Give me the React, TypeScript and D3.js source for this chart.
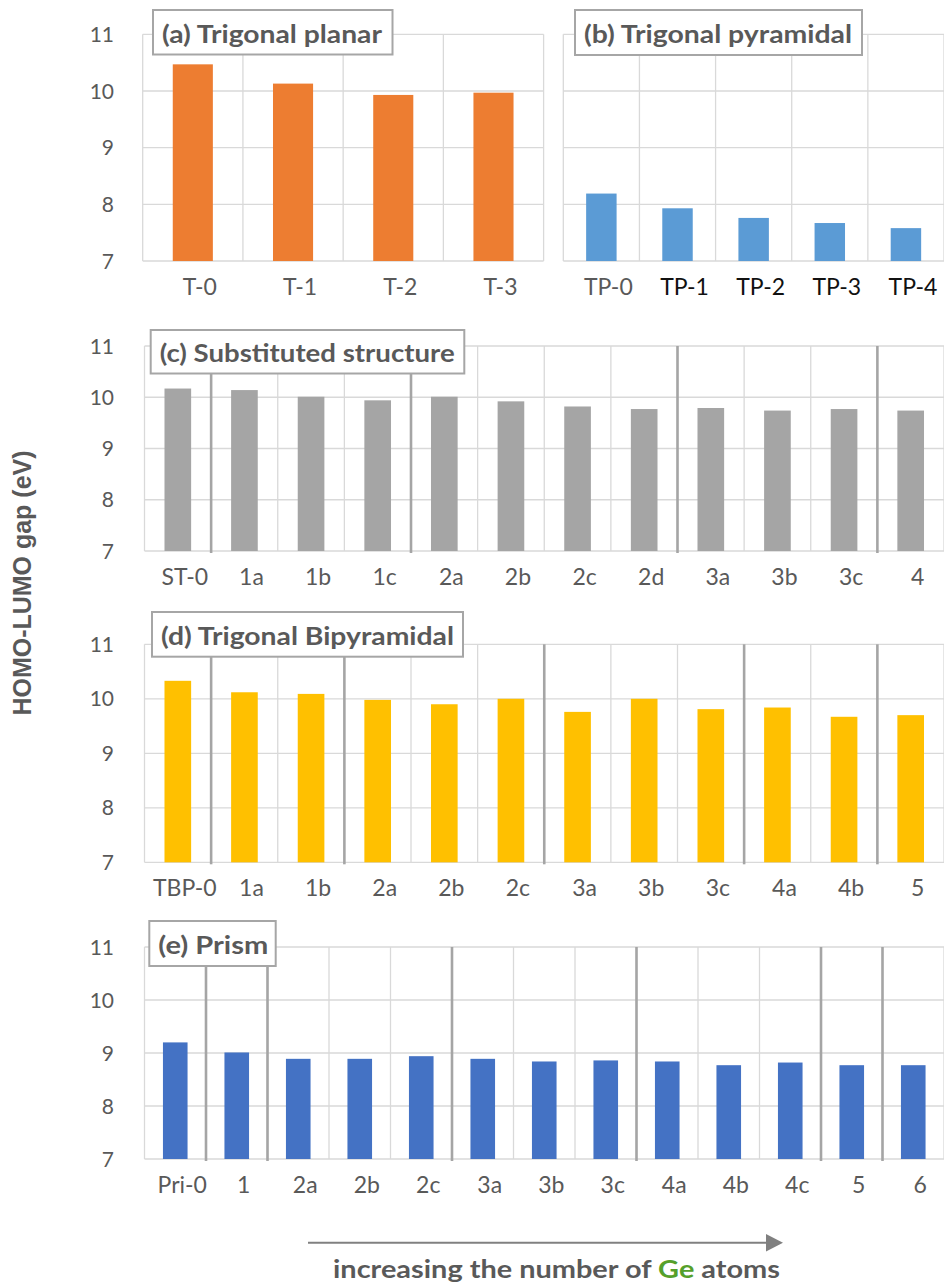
import React from "react";
import * as d3 from "d3";

const yTicks = [7, 8, 9, 10, 11];

const catA = ["T-0", "T-1", "T-2", "T-3"];
const valA = [10.47, 10.13, 9.93, 9.97];

const catB = ["TP-0", "TP-1", "TP-2", "TP-3", "TP-4"];
const valB = [8.19, 7.93, 7.76, 7.67, 7.58];

const catC = ["ST-0", "1a", "1b", "1c", "2a", "2b", "2c", "2d", "3a", "3b", "3c", "4"];
const valC = [10.17, 10.14, 10.01, 9.94, 10.01, 9.92, 9.82, 9.77, 9.79, 9.74, 9.77, 9.74];
const sepC = [1, 4, 8, 11];

const catD = ["TBP-0", "1a", "1b", "2a", "2b", "2c", "3a", "3b", "3c", "4a", "4b", "5"];
const valD = [10.33, 10.12, 10.09, 9.98, 9.9, 10.0, 9.76, 10.0, 9.81, 9.84, 9.67, 9.7];
const sepD = [1, 3, 6, 9, 11];

const catE = ["Pri-0", "1", "2a", "2b", "2c", "3a", "3b", "3c", "4a", "4b", "4c", "5", "6"];
const valE = [9.2, 9.01, 8.89, 8.89, 8.94, 8.89, 8.84, 8.86, 8.84, 8.77, 8.82, 8.77, 8.77];
const sepE = [1, 2, 5, 8, 11, 12];

const FONT = "Lato, 'Noto Sans', sans-serif";
const GREY_TEXT = "#595959";

type PanelProps = {
  cats: string[];
  vals: number[];
  seps: number[];
  color: string;
  x0: number;
  x1: number;
  yTop: number;
  yBot: number;
  title: string;
  box: [number, number, number, number];
  titleLen: number;
  darkFrom?: number;
  showTicks?: boolean;
};

function Panel(p: PanelProps) {
  const x = d3.scaleBand<string>().domain(p.cats).range([p.x0, p.x1]).padding(0);
  const y = d3.scaleLinear().domain([7, 11]).range([p.yBot, p.yTop]);
  const bw = x.bandwidth();
  const edges = d3.range(p.cats.length + 1).map((i) => p.x0 + i * bw);
  const [bx, by, bwid, bh] = p.box;
  return (
    <g>
      {yTicks.map((t) => (
        <line key={"h" + t} x1={p.x0} x2={p.x1} y1={y(t)} y2={y(t)} stroke="#d9d9d9" strokeWidth={1.3} />
      ))}
      {edges.map((e, i) => (
        <line key={"v" + i} x1={e} x2={e} y1={y(11)} y2={y(7)} stroke="#d9d9d9" strokeWidth={1.3} />
      ))}
      {p.showTicks !== false &&
        yTicks.map((t) => (
          <text key={"t" + t} x={114} y={y(t)} dy="0.36em" textAnchor="end" fontFamily={FONT} fontSize={21} fill={GREY_TEXT}>
            {t}
          </text>
        ))}
      {p.cats.map((c, i) => (
        <rect key={"b" + c} x={(x(c) as number) + bw * 0.3} width={bw * 0.4} y={y(p.vals[i])} height={y(7) - y(p.vals[i])} fill={p.color} />
      ))}
      {p.seps.map((s) => (
        <line key={"s" + s} x1={p.x0 + s * bw} x2={p.x0 + s * bw} y1={y(11)} y2={y(7) + 2} stroke="#a5a5a5" strokeWidth={2.6} />
      ))}
      {p.cats.map((c, i) => (
        <text
          key={"l" + c}
          x={(x(c) as number) + bw / 2 + 7}
          y={y(7) + 34}
          textAnchor="middle"
          fontFamily={FONT}
          fontSize={23}
          fill={p.darkFrom !== undefined && i >= p.darkFrom ? "#111111" : GREY_TEXT}
        >
          {c}
        </text>
      ))}
      <rect x={bx} y={by} width={bwid} height={bh} fill="#ffffff" stroke="#a6a6a6" strokeWidth={2} />
      <text
        x={bx + 9}
        y={by + bh * 0.74}
        fontFamily={FONT}
        fontWeight={700}
        fontSize={24}
        fill={GREY_TEXT}
        textLength={p.titleLen}
        lengthAdjust="spacingAndGlyphs"
      >
        {p.title}
      </text>
    </g>
  );
}

export default function App() {
  const W = 944;
  const H = 1284;
  return (
    <svg width={W} height={H} viewBox={`0 0 ${W} ${H}`} style={{ position: "absolute", left: 0, top: 0, background: "#fff" }}>
      <rect x={0} y={0} width={W} height={H} fill="#fff" />
      <Panel cats={catA} vals={valA} seps={[]} color="#ED7D31" x0={142.7} x1={543.6} yTop={34.3} yBot={261}
        title="(a) Trigonal planar" box={[153, 10, 239.5, 44.5]} titleLen={220} />
      <Panel cats={catB} vals={valB} seps={[]} color="#5B9BD5" x0={563.3} x1={944} yTop={34.3} yBot={261}
        title="(b) Trigonal pyramidal" box={[575, 10, 287, 45]} titleLen={268} darkFrom={1} showTicks={false} />
      <Panel cats={catC} vals={valC} seps={sepC} color="#A5A5A5" x0={144.5} x1={944} yTop={346} yBot={551}
        title="(c) Substituted structure" box={[150.7, 330, 313.6, 43.5]} titleLen={295} />
      <Panel cats={catD} vals={valD} seps={sepD} color="#FFC000" x0={144.5} x1={944} yTop={644.3} yBot={862.3}
        title="(d) Trigonal Bipyramidal" box={[152, 612, 311, 44.7]} titleLen={293} />
      <Panel cats={catE} vals={valE} seps={sepE} color="#4472C4" x0={144.5} x1={944} yTop={947} yBot={1159}
        title="(e) Prism" box={[149.3, 921, 126.4, 45]} titleLen={110} />

      <text
        transform="translate(31,583) rotate(-90)"
        textAnchor="middle"
        fontFamily="'Liberation Sans', Arial, sans-serif"
        fontWeight={700}
        fontSize={25}
        fill={GREY_TEXT}
        textLength={265}
        lengthAdjust="spacingAndGlyphs"
      >
        HOMO-LUMO gap (eV)
      </text>

      <line x1={308} x2={768} y1={1242.7} y2={1242.7} stroke="#808080" strokeWidth={2} />
      <path d="M766,1234 L783,1242.7 L766,1251.4 Z" fill="#808080" />
      <text x={333} y={1278} fontFamily={FONT} fontWeight={700} fontSize={24} fill={GREY_TEXT} textLength={447} lengthAdjust="spacingAndGlyphs">
        increasing the number of <tspan fill="#55A02B">Ge</tspan> atoms
      </text>
    </svg>
  );
}
